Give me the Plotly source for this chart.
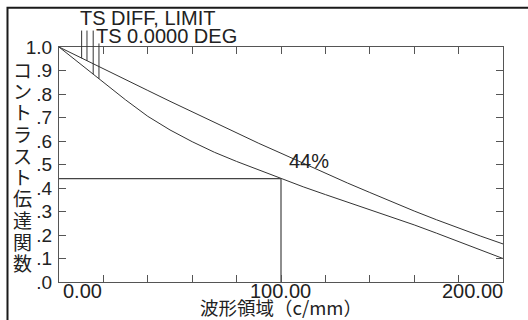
import numpy as np
import plotly.graph_objects as go

# ---- data ----
freq = [0, 10, 20, 30, 40, 50, 60, 70, 80, 90, 100,
        110, 120, 130, 140, 150, 160, 170, 180, 190, 200]
# diffraction limit (TS DIFF, LIMIT)
mtf_diff = [1.000, 0.953, 0.907, 0.861, 0.815, 0.769, 0.724, 0.679, 0.634, 0.590, 0.548,
            0.505, 0.463, 0.421, 0.381, 0.341, 0.302, 0.265, 0.229, 0.195, 0.162]
# on-axis (TS 0.0000 DEG)
mtf_axis = [1.000, 0.925, 0.850, 0.775, 0.705, 0.647, 0.597, 0.552, 0.513, 0.477, 0.440,
            0.405, 0.372, 0.340, 0.308, 0.276, 0.243, 0.208, 0.172, 0.136, 0.100]

x_ticks = [0, 20, 40, 60, 80, 100, 120, 140, 160, 180, 200]
x_label_vals = [0, 100, 200]
x_label_text = ["0.00", "100.00", "200.00"]
y_ticks = [0.0, 0.1, 0.2, 0.3, 0.4, 0.5, 0.6, 0.7, 0.8, 0.9, 1.0]
y_tick_text = [".0", ".1", ".2", ".3", ".4", ".5", ".6", ".7", ".8", ".9", "1.0"]

mark_freq = 100
mark_value = float(np.interp(mark_freq, freq, mtf_axis))
mark_label = "44%"

label_diff = "TS DIFF, LIMIT"
label_axis = "TS 0.0000 DEG"
leader_diff_freqs = [10.2, 12.6]   # leaders to diffraction curve
leader_axis_freqs = [15.4, 18.0]   # leaders to on-axis curve

y_title = "コントラスト伝達関数"
x_title = "波形領域（c/mm）"

LAT = "Liberation Sans, Arial, sans-serif"
CJK = "Noto Sans CJK JP, sans-serif"
TXT = "#222222"
CURVE = "#333333"

fig = go.Figure()
fig.add_trace(go.Scatter(x=freq, y=mtf_diff, mode="lines",
                         line=dict(color=CURVE, width=1), hoverinfo="skip"))
fig.add_trace(go.Scatter(x=freq, y=mtf_axis, mode="lines",
                         line=dict(color=CURVE, width=1), hoverinfo="skip"))
fig.add_trace(go.Scatter(x=[freq[0], mark_freq, mark_freq],
                         y=[mark_value, mark_value, 0],
                         mode="lines", line=dict(color="#444444", width=1.2),
                         hoverinfo="skip"))

shapes = []
# outer frame (extends beyond the image on the right / bottom)
shapes.append(dict(type="rect", xref="paper", yref="paper",
                   x0=-0.116, x1=2.0, y0=-1.0, y1=1.167,
                   line=dict(color="#1a1a1a", width=2), fillcolor="rgba(0,0,0,0)"))
# leaders (paper y == data y because y range equals [0,1])
for f in leader_diff_freqs:
    shapes.append(dict(type="line", xref="x", yref="paper",
                       x0=f, x1=f, y0=float(np.interp(f, freq, mtf_diff)), y1=1.07,
                       line=dict(color="#333333", width=1)))
for i, f in enumerate(leader_axis_freqs):
    top = 1.07 if i == 0 else 1.015
    shapes.append(dict(type="line", xref="x", yref="paper",
                       x0=f, x1=f, y0=float(np.interp(f, freq, mtf_axis)), y1=top,
                       line=dict(color="#333333", width=1)))

ann = []
for v, t in zip(x_label_vals, x_label_text):
    anchor = "left" if v == x_label_vals[0] else ("right" if v == x_label_vals[-1] else "center")
    xs = 2 if anchor == "left" else (2 if anchor == "right" else -1)
    ann.append(dict(x=v, y=-0.040, xref="x", yref="paper", text=t, showarrow=False,
                    xanchor=anchor, yanchor="middle", xshift=xs,
                    font=dict(family=LAT, size=20, color=TXT)))
ann.append(dict(x=0.5, y=(282 - 306.5) / 235, xref="paper", yref="paper", text=x_title,
                showarrow=False, xanchor="center", yanchor="middle",
                font=dict(family=CJK, size=18.5, color=TXT)))
for i, ch in enumerate(y_title):
    py = 69 + i * 21.5
    ann.append(dict(x=(23 - 59.3) / 444.2, y=(282 - py) / 235, xref="paper", yref="paper",
                    text=ch, showarrow=False, xanchor="center", yanchor="middle",
                    font=dict(family=CJK, size=19, color=TXT)))
ann.append(dict(x=(78 - 59.3) / 444.2, y=(282 - 18.5) / 235, xref="paper", yref="paper",
                text=label_diff, showarrow=False, xanchor="left", yanchor="middle",
                font=dict(family=LAT, size=20, color=TXT)))
ann.append(dict(x=(94 - 59.3) / 444.2, y=(282 - 36) / 235, xref="paper", yref="paper",
                text=label_axis, showarrow=False, xanchor="left", yanchor="middle",
                font=dict(family=LAT, size=20, color=TXT)))
ann.append(dict(x=mark_freq, y=mark_value, xref="x", yref="y", text=mark_label,
                showarrow=False, xanchor="center", yanchor="middle",
                xshift=28, yshift=18,
                font=dict(family=LAT, size=20, color=TXT)))

fig.update_layout(
    width=528, height=320,
    margin=dict(l=59, r=25, t=47, b=38, pad=0),
    paper_bgcolor="white", plot_bgcolor="white",
    showlegend=False,
    shapes=shapes, annotations=ann,
    xaxis=dict(range=[0, 200], tickvals=x_ticks, showticklabels=False,
               ticks="inside", ticklen=7, tickcolor="#555555", tickwidth=1,
               showline=True, linecolor="#555555", linewidth=1.3, mirror="ticks",
               showgrid=False, zeroline=False, fixedrange=True),
    yaxis=dict(range=[0, 1], tickvals=y_ticks, ticktext=y_tick_text,
               ticks="inside", ticklen=7, tickcolor="#555555", tickwidth=1,
               showline=True, linecolor="#555555", linewidth=1.3, mirror="ticks",
               showgrid=False, zeroline=False, fixedrange=True,
               tickfont=dict(family=LAT, size=19, color=TXT), ticklabelstandoff=2),
)

fig.write_html("out.html", config={"displayModeBar": False},
               post_script="document.body.style.margin='0';document.body.style.padding='0';document.body.style.overflow='hidden';")
